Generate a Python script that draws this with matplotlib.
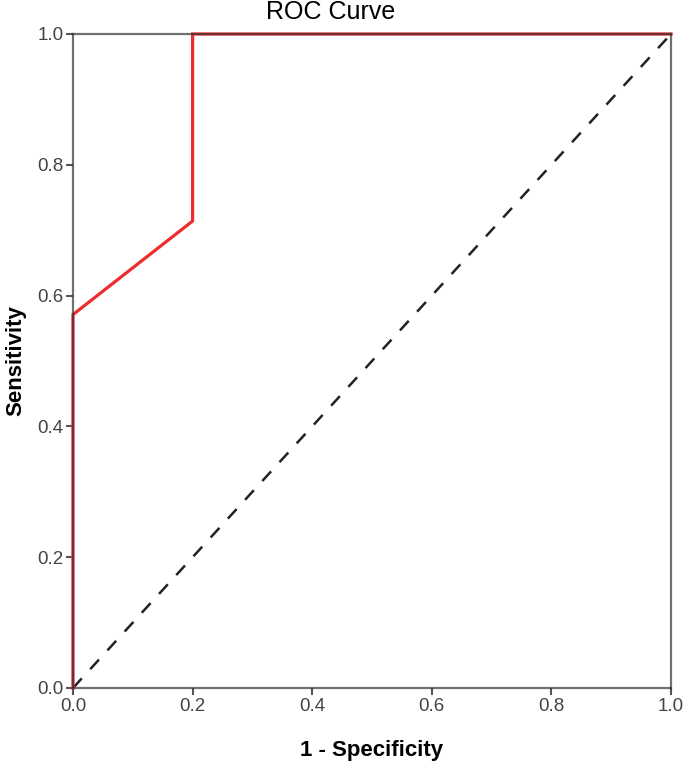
import matplotlib
matplotlib.use("Agg")
import matplotlib.pyplot as plt

plt.rcParams['font.family'] = ['Liberation Sans', 'DejaVu Sans']

# ROC curve points (1 - specificity, sensitivity)
fpr = [0.0, 0.0, 0.2, 0.2, 1.0]
tpr = [0.0, 0.571, 0.714, 1.0, 1.0]
ref_line = [0.0, 1.0]
ticks = [0.0, 0.2, 0.4, 0.6, 0.8, 1.0]
tick_labels = ['0.0', '0.2', '0.4', '0.6', '0.8', '1.0']

fig = plt.figure(figsize=(6.85, 7.70), dpi=100)
ax = fig.add_axes([73 / 685, 82 / 770, 598 / 685, 654 / 770])

ax.plot(ref_line, ref_line, color='#222222', lw=1.8, dashes=(5.2, 5.0), zorder=2)
ax.plot(fpr, tpr, color='#ee2b2f', lw=2.3, zorder=3, clip_on=False,
        solid_joinstyle='miter')

ax.set_xlim(0, 1)
ax.set_ylim(0, 1)
ax.set_xticks(ticks)
ax.set_xticklabels(tick_labels)
ax.set_yticks(ticks)
ax.set_yticklabels(tick_labels)
ax.tick_params(direction='out', length=5, width=1.5, color='#555555',
               labelsize=13.5, labelcolor='#444444', pad=2)

for sp in ax.spines.values():
    sp.set_color((0.2, 0.2, 0.2))
    sp.set_alpha(0.7)
    sp.set_linewidth(1.6)
    sp.set_zorder(4)

ax.set_xlabel('1 - Specificity', fontsize=16, fontweight='bold', labelpad=18)
ax.set_ylabel('Sensitivity', fontsize=16, fontweight='bold', labelpad=8)
ax.text(0.43, 1.016, 'ROC Curve', transform=ax.transAxes, ha='center',
        va='bottom', fontsize=18)

fig.savefig('out.png', dpi=100)
